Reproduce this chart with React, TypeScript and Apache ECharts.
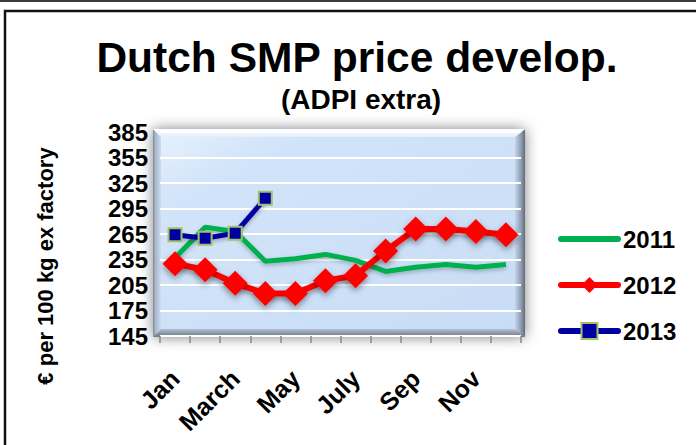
import React, { useEffect, useRef } from "react";
import * as echarts from "echarts";

const months = ["Jan", "Feb", "March", "April", "May", "June", "July", "Aug", "Sep", "Oct", "Nov", "Dec"];
const s2011 = [237, 273, 268, 233, 236, 241, 234, 221, 226, 229, 226, 229];
const s2012 = [230, 223, 207, 195, 195, 210, 216, 245, 271, 271, 268, 264];
const s2013 = [264, 260, 266, 307];
const yTicks = { min: 145, max: 385, interval: 30 };

const FONT = '"Liberation Sans", Arial, sans-serif';

export default function App() {
  const ref = useRef<HTMLDivElement>(null);
  useEffect(() => {
    if (!ref.current) return;
    const chart = echarts.init(ref.current, undefined, { renderer: "svg" });
    const L = 153, T = 129, R = 525, B = 337, bw = 8;
    const legendLine = { width: 6, cap: "round" };
    const option: any = {
      animation: false,
      backgroundColor: "#ffffff",
      title: [
        {
          text: "Dutch SMP price develop.",
          left: 352,
          top: 31,
          textAlign: "center",
          textStyle: { fontFamily: FONT, fontWeight: "bold", fontSize: 42.5, color: "#000" },
        },
        {
          text: "(ADPI extra)",
          left: 356,
          top: 80,
          textAlign: "center",
          textStyle: { fontFamily: FONT, fontWeight: "bold", fontSize: 28, color: "#000" },
        },
      ],
      grid: { left: 160, width: 361, top: 132, height: 204, show: false },
      legend: {
        orient: "vertical",
        left: 558,
        top: 227,
        padding: 0,
        itemWidth: 57,
        itemHeight: 20,
        itemGap: 22,
        textStyle: { fontFamily: FONT, fontWeight: "bold", fontSize: 24, color: "#000" },
        data: [
          { name: "2011", itemStyle: { opacity: 0 }, lineStyle: legendLine },
          { name: "2012", lineStyle: legendLine },
          { name: "2013", lineStyle: legendLine },
        ],
      },
      xAxis: {
        type: "category",
        data: months,
        boundaryGap: true,
        z: 1,
        axisLine: { show: false },
        axisTick: { show: true, interval: 0, length: 7, lineStyle: { color: "#888", width: 1.5 } },
        axisLabel: {
          interval: 1,
          rotate: 45,
          margin: 38,
          fontFamily: FONT,
          fontWeight: "bold",
          fontSize: 25,
          color: "#000",
        },
        splitLine: { show: false },
      },
      yAxis: {
        type: "value",
        min: yTicks.min,
        max: yTicks.max,
        interval: yTicks.interval,
        z: 1,
        axisLine: { show: false },
        axisTick: { show: false },
        axisLabel: { margin: 12, fontFamily: FONT, fontWeight: "bold", fontSize: 24, color: "#000" },
        splitLine: { show: true, lineStyle: { color: "#ffffff", width: 2 } },
      },
      graphic: [
        { type: "line", shape: { x1: 0, y1: 1, x2: 696, y2: 1 }, style: { stroke: "#3a3a3a", lineWidth: 2 } },
        { type: "rect", shape: { x: 5, y: 11, width: 760, height: 500 }, style: { fill: "none", stroke: "#111", lineWidth: 2.5 } },
        {
          type: "text",
          x: 45,
          y: 266,
          rotation: Math.PI / 2,
          style: {
            text: "€ per 100 kg ex factory",
            align: "center",
            verticalAlign: "middle",
            font: `bold 22px ${FONT}`,
            fill: "#000",
          },
        },
        {
          type: "rect",
          shape: { x: L, y: T, width: R - L, height: B - T },
          style: {
            fill: new echarts.graphic.LinearGradient(0, 0, 1, 1, [
              { offset: 0, color: "#e8f2fd" },
              { offset: 0.2, color: "#d2e4f9" },
              { offset: 1, color: "#c7dcf5" },
            ]),
            shadowBlur: 14,
            shadowColor: "rgba(0,0,0,0.5)",
          },
        },
        {
          type: "polygon",
          shape: { points: [[L, T], [L + bw, T + bw], [L + bw, B - bw], [L, B]] },
          style: {
            fill: new echarts.graphic.LinearGradient(0, 0, 1, 0, [
              { offset: 0, color: "#7b8a9c" },
              { offset: 0.3, color: "#a7b6c8" },
              { offset: 1, color: "#cddcee" },
            ]),
          },
        },
        {
          type: "polygon",
          shape: { points: [[R, T], [R - bw - 2, T + bw], [R - bw - 2, B - bw], [R, B]] },
          style: {
            fill: new echarts.graphic.LinearGradient(0, 0, 1, 0, [
              { offset: 0, color: "#c4d5ea" },
              { offset: 0.6, color: "#8f9db0" },
              { offset: 1, color: "#5f6b7a" },
            ]),
          },
        },
        {
          type: "polygon",
          shape: { points: [[L, B], [L + bw, B - bw], [R - bw - 2, B - bw], [R, B]] },
          style: {
            fill: new echarts.graphic.LinearGradient(0, 0, 0, 1, [
              { offset: 0, color: "#b3c2d4" },
              { offset: 0.5, color: "#8d99a8" },
              { offset: 1, color: "#6d7886" },
            ]),
          },
        },
        {
          type: "polygon",
          shape: { points: [[L, T], [R, T], [R - bw - 2, T + bw], [L + bw, T + bw]] },
          style: {
            fill: new echarts.graphic.LinearGradient(0, 0, 0, 1, [
              { offset: 0, color: "#ffffff" },
              { offset: 1, color: "#e2eefb" },
            ]),
          },
        },
      ],
      series: [
        {
          name: "2011",
          type: "line",
          data: s2011,
          symbol: "none",
          color: "#00b050",
          lineStyle: { color: "#00b050", width: 5, shadowColor: "rgba(0,0,0,0.25)", shadowBlur: 4, shadowOffsetY: 2 },
          z: 3,
        },
        {
          name: "2012",
          type: "line",
          data: s2012,
          symbol: "diamond",
          symbolSize: 25,
          showAllSymbol: true,
          color: "#ff0000",
          itemStyle: { color: "#ff0000", shadowColor: "rgba(0,0,0,0.4)", shadowBlur: 6, shadowOffsetY: 3 },
          lineStyle: { color: "#ff0000", width: 6, shadowColor: "rgba(0,0,0,0.35)", shadowBlur: 5, shadowOffsetY: 3 },
          z: 4,
        },
        {
          name: "2013",
          type: "line",
          data: s2013,
          symbol: "rect",
          symbolSize: 13,
          showAllSymbol: true,
          color: "#0000a0",
          itemStyle: { color: "#0000a0", borderColor: "#a3c06a", borderWidth: 2 },
          lineStyle: { color: "#0000a0", width: 5, shadowColor: "rgba(0,0,0,0.3)", shadowBlur: 4, shadowOffsetY: 2 },
          z: 5,
        },
      ],
    };
    chart.setOption(option);
    return () => chart.dispose();
  }, []);
  return (
    <div
      ref={ref}
      style={{ position: "fixed", left: 0, top: 0, width: 696, height: 445, background: "#fff" }}
    />
  );
}
